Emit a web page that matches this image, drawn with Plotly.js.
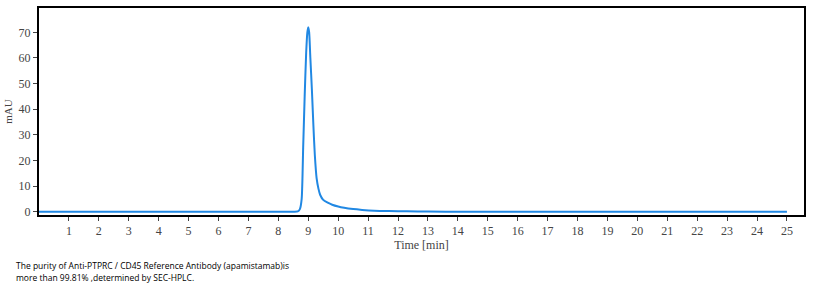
<!DOCTYPE html>
<html>
<head>
<meta charset="utf-8">
<script src="https://cdn.plot.ly/plotly-3.0.1.min.js"></script>
<style>html,body{margin:0;padding:0;background:#fff;}#chart{width:815px;height:291px;}</style>
</head>
<body>
<div id="chart"></div>
<script>
var timeMin = [0, 8.5, 8.65, 8.72, 8.78, 8.83, 8.88, 8.93, 8.97, 9.0, 9.03, 9.07, 9.12, 9.17, 9.22, 9.28, 9.34, 9.4, 9.5, 9.65, 9.8, 10.0, 10.2, 10.5, 10.8, 11.2, 11.7, 12.3, 13.0, 14.0, 25.0];
var mAU = [0, 0, 0.1, 1, 5, 25, 45, 62, 70, 72, 70, 60, 48, 34, 22, 13, 9, 6.5, 4.6, 3.5, 2.7, 2.0, 1.5, 1.0, 0.7, 0.4, 0.25, 0.15, 0.05, 0, 0];
var xTicks = [1,2,3,4,5,6,7,8,9,10,11,12,13,14,15,16,17,18,19,20,21,22,23,24,25];
var yTicks = [0,10,20,30,40,50,60,70];
var captionLines = ["The purity of Anti-PTPRC / CD45 Reference Antibody (apamistamab)is", "more than 99.81% ,determined by SEC-HPLC."];

var tickFont = {family: "Liberation Serif", size: 12, color: "#444"};
var trace = {
  x: timeMin, y: mAU, type: "scatter", mode: "lines",
  line: {color: "#2188e3", width: 2, shape: "spline", smoothing: 0.6},
  hoverinfo: "skip"
};
var layout = {
  width: 815, height: 291,
  margin: {l: 39, r: 11, t: 8, b: 76},
  paper_bgcolor: "#fff", plot_bgcolor: "#fff",
  showlegend: false,
  xaxis: {
    range: [0, 25.57], tickvals: xTicks, ticktext: xTicks.map(String),
    ticks: "outside", ticklen: 4, tickwidth: 1, tickcolor: "#444",
    showgrid: false, zeroline: false,
    showline: true, linecolor: "#000", linewidth: 2, mirror: true,
    tickfont: tickFont,
    title: {text: "Time [min]", font: {family: "Liberation Serif", size: 12, color: "#444"}, standoff: 3}
  },
  yaxis: {
    range: [-1.3, 79.5], tickvals: yTicks, ticktext: yTicks.map(String),
    ticks: "outside", ticklen: 4, tickwidth: 1, tickcolor: "#444",
    showgrid: false, zeroline: false,
    showline: true, linecolor: "#000", linewidth: 2, mirror: true,
    tickfont: tickFont,
    title: {text: "mAU", font: {family: "Liberation Serif", size: 11, color: "#444"}, standoff: 4}
  },
  annotations: captionLines.map(function (t, i) {
    return {
      text: t, xref: "paper", yref: "paper", x: -39/765, y: -(50 + i * 12)/207,
      xanchor: "left", yanchor: "middle", xshift: 14, showarrow: false,
      font: {family: "Open Sans", size: 8.5, color: "#000"}
    };
  })
};
Plotly.newPlot("chart", [trace], layout, {staticPlot: true, displayModeBar: false});
</script>
</body>
</html>
